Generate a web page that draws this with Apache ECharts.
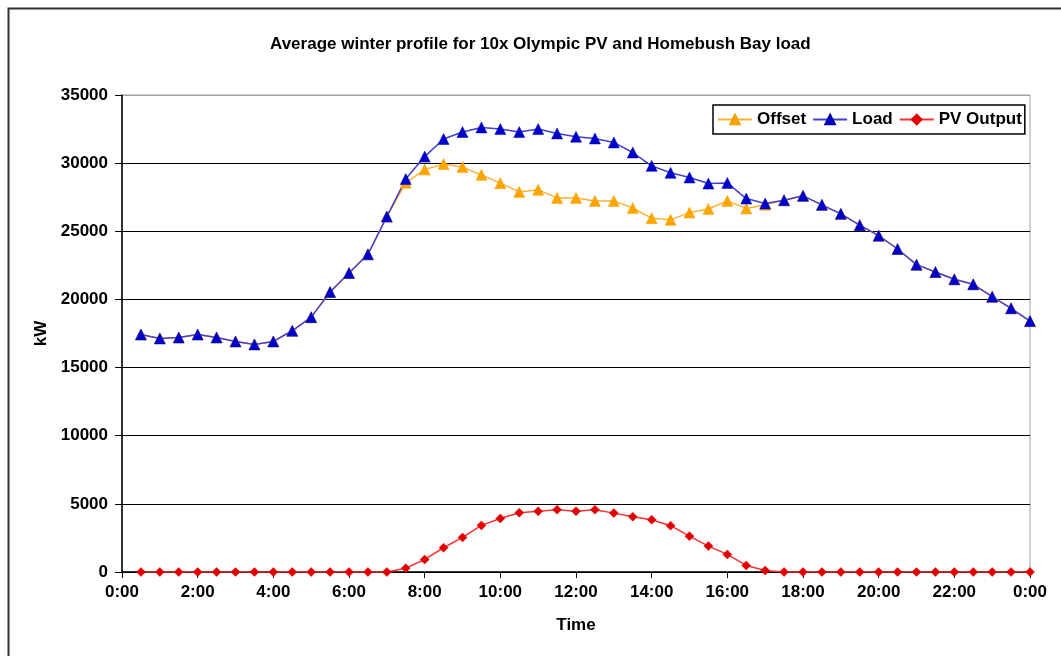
<!DOCTYPE html>
<html>
<head>
<meta charset="utf-8">
<script src="https://cdn.jsdelivr.net/npm/echarts@6/dist/echarts.min.js"></script>
<style>html,body{margin:0;padding:0;background:#fff}#c{width:1061px;height:656px}</style>
</head>
<body>
<div id="c"></div>
<script>
const hours = [0.5,1,1.5,2,2.5,3,3.5,4,4.5,5,5.5,6,6.5,7,7.5,8,8.5,9,9.5,10,10.5,11,11.5,12,
  12.5,13,13.5,14,14.5,15,15.5,16,16.5,17,17.5,18,18.5,19,19.5,20,20.5,21,21.5,22,22.5,23,23.5,24];
const loadKW = [17430,17140,17210,17430,17210,16920,16700,16920,17700,18700,20540,21940,23310,26080,
  28830,30480,31770,32280,32620,32500,32280,32500,32180,31940,31810,31520,30780,29800,29290,28950,
  28500,28550,27400,27040,27280,27600,26940,26280,25450,24680,23700,22550,22010,21480,21110,20200,19350,18410];
const offsetKW = [17430,17140,17210,17430,17210,16920,16700,16920,17700,18700,20540,21940,23310,26080,
  28560,29530,29930,29710,29140,28530,27890,28040,27450,27450,27230,27230,26700,25960,25840,26370,
  26640,27230,26680,26940,27280,27600,26940,26280,25450,24680,23700,22550,22010,21480,21110,20200,19350,18410];
const pvKW = [0,0,0,0,0,0,0,0,0,0,0,0,0,0,
  280,920,1780,2540,3420,3930,4350,4450,4570,4460,4570,4320,4060,3840,3400,2630,1900,1290,480,110,
  0,0,0,0,0,0,0,0,0,0,0,0,0,0];
const xTicks = ['0:00','2:00','4:00','6:00','8:00','10:00','12:00','14:00','16:00','18:00','20:00','22:00','0:00'];

const FONT = "'Liberation Sans', Arial, sans-serif";
const pair = arr => hours.map((h, i) => [h, arr[i]]);

const chart = echarts.init(document.getElementById('c'), null, {renderer: 'canvas'});
chart.setOption({
  backgroundColor: '#fff',
  animation: false,
  textStyle: {fontFamily: FONT},
  title: {
    text: 'Average winter profile for 10x Olympic PV and Homebush Bay load',
    left: 265, top: 31,
    textStyle: {fontFamily: FONT, fontSize: 17, fontWeight: 'bold', color: '#000'}
  },
  graphic: [{
    type: 'rect', left: 6, top: 6, silent: true, z: -10,
    shape: {x: 0, y: 0, width: 1200, height: 800},
    style: {fill: 'none', stroke: '#333', lineWidth: 2}
  }],
  legend: {
    left: 713, top: 105,
    padding: [6, 3, 6, 4],
    itemGap: 6, itemWidth: 34, itemHeight: 12,
    borderColor: '#000', borderWidth: 1.5,
    backgroundColor: '#fff',
    textStyle: {fontFamily: FONT, fontSize: 17, fontWeight: 'bold', color: '#000'},
    data: ['Offset', 'Load', 'PV Output']
  },
  grid: {
    left: 122, right: 31, top: 95, bottom: 84,
    show: true, borderColor: '#a0a0a0', borderWidth: 1, backgroundColor: '#fff'
  },
  xAxis: {
    type: 'value', min: 0, max: 24, interval: 2,
    name: 'Time', nameLocation: 'middle', nameGap: 45,
    nameTextStyle: {fontFamily: FONT, fontSize: 17, fontWeight: 'bold', color: '#000'},
    axisLine: {lineStyle: {color: '#000', width: 1.5}},
    axisTick: {show: true, length: 6, lineStyle: {color: '#000'}},
    axisLabel: {
      margin: 12, color: '#000', fontFamily: FONT, fontSize: 17, fontWeight: 'bold',
      formatter: v => xTicks[Math.round(v / 2)]
    },
    splitLine: {show: false}
  },
  yAxis: {
    type: 'value', min: 0, max: 35000, interval: 5000,
    name: 'kW', nameLocation: 'middle', nameGap: 70, nameRotate: 90,
    nameTextStyle: {fontFamily: FONT, fontSize: 17, fontWeight: 'bold', color: '#000'},
    axisLine: {show: true, lineStyle: {color: '#000', width: 1.5}},
    axisTick: {show: true, length: 7, lineStyle: {color: '#000'}},
    axisLabel: {margin: 14, color: '#000', fontFamily: FONT, fontSize: 17, fontWeight: 'bold',
      formatter: v => String(v)},
    splitLine: {show: true, lineStyle: {color: ['#000','#000','#000','#000','#000','#000','#000','#a0a0a0'], width: 1.2}}
  },
  series: [
    {
      name: 'Offset', type: 'line', data: pair(offsetKW),
      symbol: 'triangle', symbolSize: 11, showAllSymbol: true,
      lineStyle: {color: '#FFB030', width: 1.5},
      itemStyle: {color: '#FFA500', borderColor: '#F0A000', borderWidth: 0.5}
    },
    {
      name: 'Load', type: 'line', data: pair(loadKW),
      symbol: 'triangle', symbolSize: 11, showAllSymbol: true,
      lineStyle: {color: '#4040D0', width: 1.5},
      itemStyle: {color: '#0000CC', borderColor: '#0000AA', borderWidth: 0.5}
    },
    {
      name: 'PV Output', type: 'line', data: pair(pvKW),
      symbol: 'diamond', symbolSize: 9, showAllSymbol: true,
      lineStyle: {color: '#FF3030', width: 1.5},
      itemStyle: {color: '#E00000', borderColor: '#E00000', borderWidth: 0.5}
    }
  ]
});
</script>
</body>
</html>
